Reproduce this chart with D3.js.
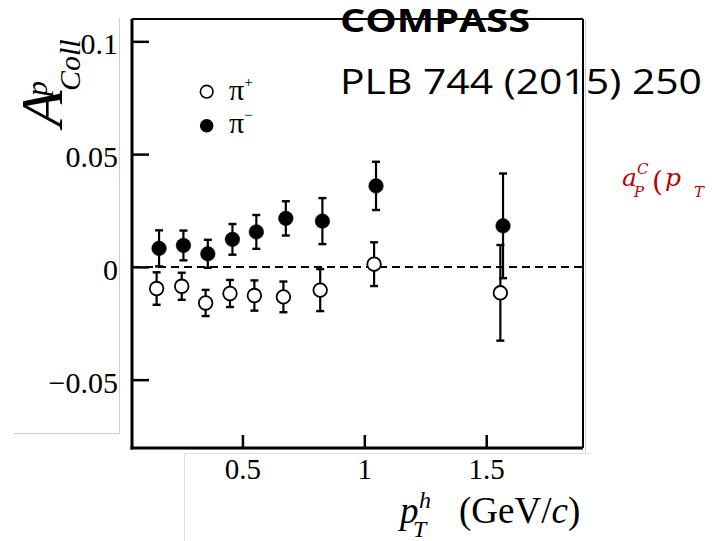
<!DOCTYPE html>
<html>
<head>
<meta charset="utf-8">
<style>
 body { margin: 0; background: #fff; }
 svg { display: block; background: #fff; }
 .tick text { font-family: "Liberation Serif", "Times New Roman", serif; fill: #000; }
</style>
</head>
<body>
<svg width="718" height="541"></svg>
<script src="https://d3js.org/d3.v7.min.js"></script>
<script>

// pi+ (open circles)
var ptPlus  = [0.148, 0.251, 0.349, 0.449, 0.549, 0.668, 0.819, 1.040, 1.558];
var aPlus   = [-0.0096, -0.0086, -0.0160, -0.0118, -0.0127, -0.0133, -0.0103, 0.0012, -0.0115];
var errPlus = [0.0072, 0.0060, 0.0058, 0.0060, 0.0067, 0.0068, 0.0093, 0.0097, 0.0212];

// pi- (filled circles)
var ptMinus  = [0.158, 0.258, 0.358, 0.459, 0.557, 0.678, 0.828, 1.048, 1.569];
var aMinus   = [0.0082, 0.0095, 0.0058, 0.0122, 0.0155, 0.0215, 0.0203, 0.0359, 0.0182];
var errMinus = [0.0080, 0.0066, 0.0062, 0.0068, 0.0075, 0.0076, 0.0102, 0.0107, 0.0232];

var xTicks = [0.5, 1, 1.5];
var yTicks = [-0.05, 0, 0.05, 0.1];
var yTickLabels = ["\u22120.05", "0", "0.05", "0.1"];

var svg = d3.select("svg");
var pLeft = 132, pTop = 19, pRight = 583, pBottom = 448;

var x = d3.scaleLinear().domain([0.047, 1.897]).range([pLeft, pRight]);
var y = d3.scaleLinear().domain([-0.0803, 0.1099]).range([pBottom, pTop]);

// leftover slide/crop edges (grey)
var grey = "#cfcfcf";
svg.append("path").attr("d", "M14,433.5H119.5V18")
    .attr("fill", "none").attr("stroke", grey).attr("stroke-width", 1);
svg.append("path").attr("d", "M184.5,541V453.5H590")
    .attr("fill", "none").attr("stroke", "#e0e0e0").attr("stroke-width", 1);
svg.append("line").attr("x1", 585.5).attr("x2", 585.5).attr("y1", 19).attr("y2", 452)
    .attr("stroke", grey).attr("stroke-width", 1);

// axes (ticks drawn inward)
var yAxis = d3.axisLeft(y).tickValues(yTicks)
    .tickFormat(function(d, i){ return yTickLabels[i]; })
    .tickSize(-17).tickPadding(14);
var yg = svg.append("g").attr("transform", "translate(" + pLeft + ",0)").call(yAxis);
yg.select(".domain").remove();
yg.selectAll(".tick line").attr("stroke", "#000").attr("stroke-width", 2.5);
yg.selectAll(".tick text").style("font-size", "30px").attr("dy", "0.42em");

var xAxis = d3.axisBottom(x).tickValues(xTicks)
    .tickFormat(function(d){ return d; })
    .tickSize(-13);
var xg = svg.append("g").attr("transform", "translate(0," + pBottom + ")").call(xAxis);
xg.select(".domain").remove();
xg.selectAll(".tick line").attr("stroke", "#000").attr("stroke-width", 2.5);
xg.selectAll(".tick text").style("font-size", "29px").attr("y", 31).attr("dy", 0);

// frame
svg.append("line").attr("x1", pLeft).attr("x2", pRight).attr("y1", pTop).attr("y2", pTop)
    .attr("stroke", "#000").attr("stroke-width", 2);
svg.append("line").attr("x1", pRight).attr("x2", pRight).attr("y1", pTop).attr("y2", pBottom)
    .attr("stroke", "#000").attr("stroke-width", 2);
svg.append("line").attr("x1", pLeft).attr("x2", pLeft).attr("y1", pTop).attr("y2", pBottom + 1.5)
    .attr("stroke", "#000").attr("stroke-width", 3);
svg.append("line").attr("x1", pLeft - 1.5).attr("x2", pRight).attr("y1", pBottom).attr("y2", pBottom)
    .attr("stroke", "#000").attr("stroke-width", 3);

// zero line
svg.append("line").attr("x1", pLeft).attr("x2", pRight).attr("y1", y(0)).attr("y2", y(0))
    .attr("stroke", "#000").attr("stroke-width", 2).attr("stroke-dasharray", "8,5");

function drawSeries(pts, vals, errs, filled) {
    var data = pts.map(function(p, i){ return {x: p, y: vals[i], e: errs[i]}; });
    var g = svg.append("g");
    var bars = g.selectAll("g.eb").data(data).enter().append("g").attr("class", "eb");
    bars.append("line")
        .attr("x1", function(d){ return x(d.x); }).attr("x2", function(d){ return x(d.x); })
        .attr("y1", function(d){ return y(d.y + d.e); }).attr("y2", function(d){ return y(d.y - d.e); })
        .attr("stroke", "#000").attr("stroke-width", 2.2);
    [1, -1].forEach(function(s){
        bars.append("line")
            .attr("x1", function(d){ return x(d.x) - 4; }).attr("x2", function(d){ return x(d.x) + 4; })
            .attr("y1", function(d){ return y(d.y + s * d.e); }).attr("y2", function(d){ return y(d.y + s * d.e); })
            .attr("stroke", "#000").attr("stroke-width", 2.4);
    });
    g.selectAll("circle").data(data).enter().append("circle")
        .attr("cx", function(d){ return x(d.x); })
        .attr("cy", function(d){ return y(d.y); })
        .attr("r", filled ? 7.3 : 6.8)
        .attr("fill", filled ? "#000" : "#fff")
        .attr("stroke", "#000").attr("stroke-width", filled ? 0.5 : 1.8);
}
drawSeries(ptMinus, aMinus, errMinus, true);
drawSeries(ptPlus, aPlus, errPlus, false);

// legend
var serif = "'Liberation Serif', 'Times New Roman', serif";
svg.append("circle").attr("cx", 206.7).attr("cy", 91.7).attr("r", 6.3)
    .attr("fill", "#fff").attr("stroke", "#000").attr("stroke-width", 1.6);
svg.append("circle").attr("cx", 206.7).attr("cy", 125.7).attr("r", 6.8).attr("fill", "#000");
var l1 = svg.append("text").attr("x", 229).attr("y", 100)
    .style("font-family", serif).style("font-size", "30px").text("\u03c0");
l1.append("tspan").attr("dy", -13).style("font-size", "15px").text("+");
var l2 = svg.append("text").attr("x", 229).attr("y", 133)
    .style("font-family", serif).style("font-size", "30px").text("\u03c0");
l2.append("tspan").attr("dy", -13).style("font-size", "15px").text("\u2212");

// y axis title
var yt = svg.append("g").attr("transform", "translate(62,127) rotate(-90)")
    .style("font-family", serif).style("font-style", "italic");
yt.append("text").attr("x", 0).attr("y", 0).style("font-size", "60px").text("A");
yt.append("text").attr("x", 36).attr("y", 18).style("font-size", "30px").text("Coll");
yt.append("text").attr("x", 31).attr("y", -15).style("font-size", "30px").text("p");

// x axis title
svg.append("text").attr("x", 400).attr("y", 523).style("font-family", serif)
    .style("font-style", "italic").style("font-size", "37px").text("p");
svg.append("text").attr("x", 419).attr("y", 508).style("font-family", serif)
    .style("font-style", "italic").style("font-size", "24px").text("h");
svg.append("text").attr("x", 413).attr("y", 537).style("font-family", serif)
    .style("font-style", "italic").style("font-size", "24px").text("T");
var xl = svg.append("text").attr("x", 459).attr("y", 523).style("font-family", serif)
    .style("font-size", "37px");
xl.append("tspan").text("(GeV/");
xl.append("tspan").style("font-style", "italic").text("c");
xl.append("tspan").text(")");

// slide annotations
var sans = "'Open Sans', 'Liberation Sans', sans-serif";
svg.append("text").attr("x", 340).attr("y", 32).style("font-family", sans)
    .style("font-weight", "bold").style("font-size", "33px")
    .attr("textLength", 190).attr("lengthAdjust", "spacingAndGlyphs").text("COMPASS");
svg.append("text").attr("x", 340).attr("y", 94).style("font-family", sans)
    .style("font-size", "34px")
    .attr("textLength", 362).attr("lengthAdjust", "spacingAndGlyphs").text("PLB 744 (2015) 250");

var red = "#c00000";
var rs = "'DejaVu Serif', serif";
svg.append("text").attr("x", 622).attr("y", 186).attr("fill", red).style("font-family", rs)
    .style("font-style", "italic").style("font-size", "25px").text("a");
svg.append("text").attr("x", 637).attr("y", 174).attr("fill", red).style("font-family", rs)
    .style("font-style", "italic").style("font-size", "15px").text("C");
svg.append("text").attr("x", 634).attr("y", 197).attr("fill", red).style("font-family", rs)
    .style("font-style", "italic").style("font-size", "15px").text("P");
svg.append("text").attr("x", 652).attr("y", 191).attr("fill", red).style("font-family", rs)
    .style("font-size", "28px").text("(");
svg.append("text").attr("x", 665).attr("y", 186).attr("fill", red).style("font-family", rs)
    .style("font-style", "italic").style("font-size", "25px").text("p");
svg.append("text").attr("x", 694).attr("y", 197).attr("fill", red).style("font-family", rs)
    .style("font-style", "italic").style("font-size", "15px").text("T");

</script>
</body>
</html>
